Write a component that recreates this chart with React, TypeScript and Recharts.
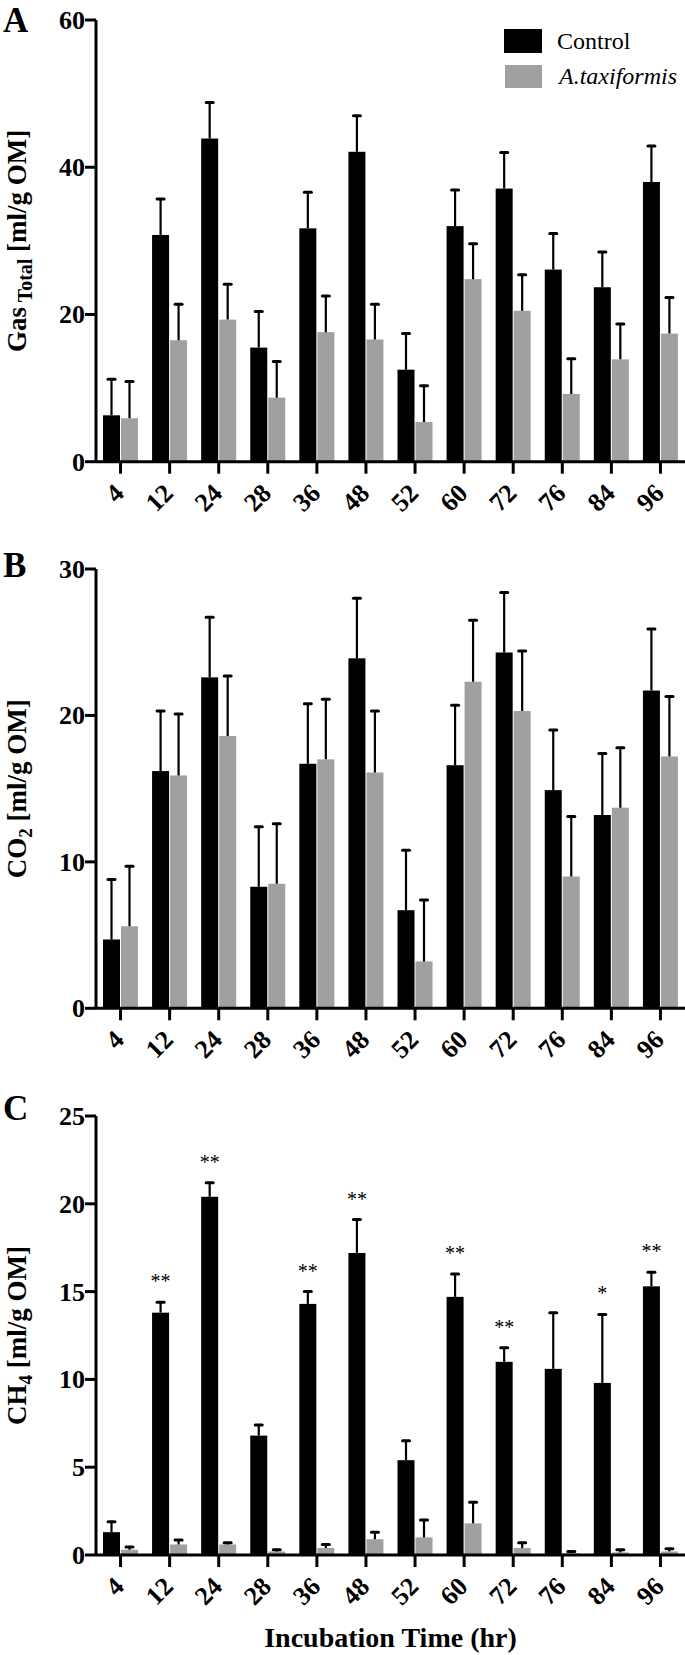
import React from 'react';
import { BarChart, Bar, XAxis, YAxis, Legend } from 'recharts';

const SERIF = '"Liberation Serif", "Times New Roman", serif';
const GRAY = '#a0a0a0';

const times = ['4', '12', '24', '28', '36', '48', '52', '60', '72', '76', '84', '96'];

// Panel A: total gas
const gasControl = [6.3, 30.8, 43.9, 15.5, 31.7, 42.1, 12.5, 32.0, 37.1, 26.1, 23.7, 38.0];
const gasControlErr = [4.9, 4.9, 4.9, 4.9, 4.9, 4.9, 4.9, 4.9, 4.9, 4.9, 4.8, 4.9];
const gasTaxi = [5.9, 16.5, 19.3, 8.7, 17.6, 16.6, 5.4, 24.8, 20.5, 9.2, 13.9, 17.4];
const gasTaxiErr = [5.0, 4.9, 4.8, 4.9, 4.9, 4.8, 4.9, 4.8, 4.9, 4.8, 4.8, 4.9];
const gasTicks = [0, 20, 40, 60];

// Panel B: CO2
const co2Control = [4.7, 16.2, 22.6, 8.3, 16.7, 23.9, 6.7, 16.6, 24.3, 14.9, 13.2, 21.7];
const co2ControlErr = [4.1, 4.1, 4.1, 4.1, 4.1, 4.1, 4.1, 4.1, 4.1, 4.1, 4.2, 4.2];
const co2Taxi = [5.6, 15.9, 18.6, 8.5, 17.0, 16.1, 3.2, 22.3, 20.3, 9.0, 13.7, 17.2];
const co2TaxiErr = [4.1, 4.2, 4.1, 4.1, 4.1, 4.2, 4.2, 4.2, 4.1, 4.1, 4.1, 4.1];
const co2Ticks = [0, 10, 20, 30];

// Panel C: CH4
const ch4Control = [1.3, 13.8, 20.4, 6.8, 14.3, 17.2, 5.4, 14.7, 11.0, 10.6, 9.8, 15.3];
const ch4ControlErr = [0.6, 0.6, 0.8, 0.6, 0.7, 1.9, 1.1, 1.3, 0.8, 3.2, 3.9, 0.8];
const ch4Taxi = [0.3, 0.6, 0.6, 0.2, 0.4, 0.9, 1.0, 1.8, 0.4, 0.1, 0.15, 0.2];
const ch4TaxiErr = [0.15, 0.25, 0.1, 0.1, 0.2, 0.4, 1.0, 1.2, 0.3, 0.1, 0.15, 0.15];
const ch4Stars = ['', '**', '**', '', '**', '**', '', '**', '**', '', '*', '**'];
const ch4Ticks = [0, 5, 10, 15, 20, 25];

const build = (c: number[], ce: number[], g: number[], ge: number[], s?: string[]) =>
  times.map((t, i) => ({ t, ctrl: c[i], ctrlErr: ce[i], taxi: g[i], taxiErr: ge[i], star: s ? s[i] : '' }));

const makeShape = (fill: string, valKey: string, errKey: string, withStar: boolean) => (props: any) => {
  const { x, y, width, height, payload } = props;
  const v = payload[valKey];
  const e = payload[errKey];
  const k = v > 0 ? height / v : 0;
  const top = y - e * k;
  const cx = x + width / 2;
  return (
    <g>
      <rect x={x} y={y} width={width} height={height} fill={fill} />
      <line x1={cx} x2={cx} y1={y} y2={top} stroke="#000" strokeWidth={2.2} />
      <line x1={cx - 3.5} x2={cx + 3.5} y1={top} y2={top} stroke="#000" strokeWidth={3} strokeLinecap="round" />
      {withStar && payload.star ? (
        <text x={cx} y={top - 14} textAnchor="middle" fontSize={20} fontFamily={SERIF} fill="#000">
          {payload.star}
        </text>
      ) : null}
    </g>
  );
};

const XTick = (props: any) => {
  const { x, y, payload } = props;
  const ax = x + 5;
  const ay = y + 21;
  return (
    <text x={ax} y={ay} transform={`rotate(-45, ${ax}, ${ay})`} textAnchor="end" fontSize={26}
      fontWeight="bold" fontFamily={SERIF} fill="#000">
      {payload.value}
    </text>
  );
};

const YTick = (props: any) => {
  const { x, y, payload } = props;
  return (
    <text x={x} y={y + 9} textAnchor="end" fontSize={26} fontWeight="bold" fontFamily={SERIF} fill="#000">
      {payload.value}
    </text>
  );
};

const renderLegend = () => (
  <svg width={685} height={100} style={{ display: 'block' }}>
    <rect x={504} y={29} width={38} height={24} fill="#000" />
    <text x={557} y={49} fontSize={24} fontFamily={SERIF} fill="#000">Control</text>
    <rect x={505} y={65} width={37} height={23} fill={GRAY} />
    <text x={559} y={84} fontSize={24} fontStyle="italic" fontFamily={SERIF} fill="#000">A.taxiformis</text>
  </svg>
);

type PanelProps = {
  top: number;
  height: number;
  marginTop: number;
  xAxisHeight: number;
  data: any[];
  yMax: number;
  yTicks: number[];
  letter: string;
  letterY: number;
  title: React.ReactNode;
  legend?: boolean;
  stars?: boolean;
  xTitle?: string;
};

const Panel = (p: PanelProps) => {
  const plotH = p.height - p.marginTop - p.xAxisHeight;
  const yLabel = () => (
    <g>
      <text x={3} y={p.letterY} fontSize={35} fontWeight="bold" fontFamily={SERIF} fill="#000">{p.letter}</text>
      <text transform={`translate(26, ${p.marginTop + plotH / 2}) rotate(-90)`} textAnchor="middle"
        fontSize={27} fontWeight="bold" fontFamily={SERIF} fill="#000">
        {p.title}
      </text>
    </g>
  );
  const xLabel = () =>
    p.xTitle ? (
      <text x={96 + 589 / 2} y={p.marginTop + plotH + 92} textAnchor="middle" fontSize={28} fontWeight="bold"
        fontFamily={SERIF} fill="#000">
        {p.xTitle}
      </text>
    ) : null;
  return (
    <div style={{ position: 'absolute', left: 0, top: p.top, width: 685, height: p.height }}>
      <BarChart width={685} height={p.height} data={p.data} barSize={17} barGap={1}
        margin={{ top: p.marginTop, right: 0, bottom: 0, left: 0 }}>
        <XAxis dataKey="t" height={p.xAxisHeight} tickSize={12} tickMargin={0} interval={0}
          axisLine={{ stroke: '#000', strokeWidth: 3 }} tickLine={{ stroke: '#000', strokeWidth: 3 }}
          tick={<XTick />} label={xLabel} />
        <YAxis width={96} domain={[0, p.yMax]} ticks={p.yTicks} interval={0} tickSize={11} tickMargin={0}
          allowDataOverflow axisLine={{ stroke: '#000', strokeWidth: 3 }}
          tickLine={{ stroke: '#000', strokeWidth: 3 }} tick={<YTick />} label={yLabel} />
        {p.legend ? (
          <Legend layout="vertical" align="center" verticalAlign="middle" content={renderLegend}
            wrapperStyle={{ position: 'absolute', left: 0, top: 0, width: 685, height: 100 }} />
        ) : null}
        <Bar dataKey="ctrl" name="Control" fill="#000" isAnimationActive={false}
          shape={makeShape('#000', 'ctrl', 'ctrlErr', !!p.stars)} />
        <Bar dataKey="taxi" name="A.taxiformis" fill={GRAY} isAnimationActive={false}
          shape={makeShape(GRAY, 'taxi', 'taxiErr', false)} />
      </BarChart>
    </div>
  );
};

export default function App() {
  const dataA = build(gasControl, gasControlErr, gasTaxi, gasTaxiErr);
  const dataB = build(co2Control, co2ControlErr, co2Taxi, co2TaxiErr);
  const dataC = build(ch4Control, ch4ControlErr, ch4Taxi, ch4TaxiErr, ch4Stars);
  return (
    <div style={{ position: 'absolute', left: 0, top: 0, width: 685, height: 1655, background: '#fff' }}>
      <Panel top={0} height={530} marginTop={20} xAxisHeight={68.3} data={dataA} yMax={60} yTicks={gasTicks}
        letter="A" letterY={31.5} legend
        title={<>
          <tspan>Gas</tspan>
          <tspan fontSize={20} dy={6}> Total</tspan>
          <tspan dy={-6}> [ml/g OM]</tspan>
        </>} />
      <Panel top={530} height={560} marginTop={39} xAxisHeight={81.7} data={dataB} yMax={30} yTicks={co2Ticks}
        letter="B" letterY={47}
        title={<>
          <tspan>CO</tspan>
          <tspan fontSize={19} dy={6}>2</tspan>
          <tspan dy={-6}> [ml/g OM]</tspan>
        </>} />
      <Panel top={1080} height={575} marginTop={36} xAxisHeight={100} data={dataC} yMax={25} yTicks={ch4Ticks}
        letter="C" letterY={40} stars xTitle="Incubation Time (hr)"
        title={<>
          <tspan>CH</tspan>
          <tspan fontSize={19} dy={6}>4</tspan>
          <tspan dy={-6}> [ml/g OM]</tspan>
        </>} />
    </div>
  );
}
